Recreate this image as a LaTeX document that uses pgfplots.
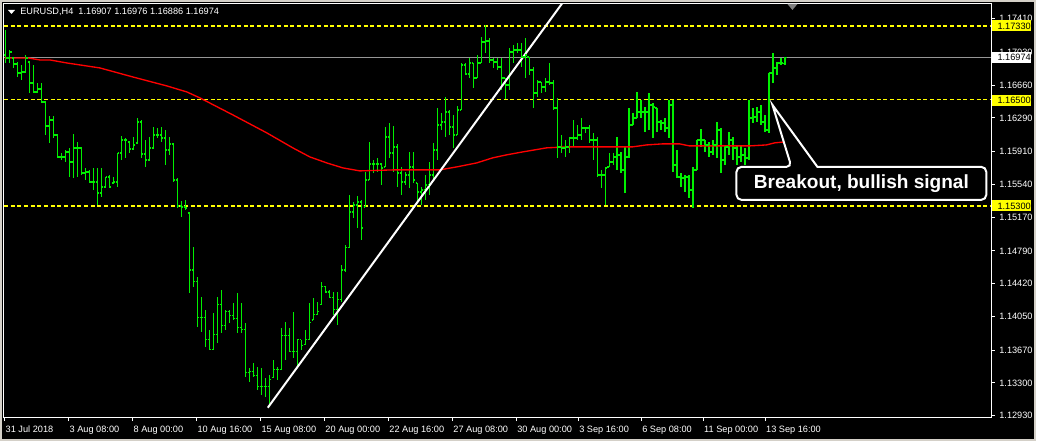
\documentclass[border=0pt]{standalone}
\usepackage{pgfplots}
\pgfplotsset{compat=1.18}
\usepackage{pgfplotstable}
\usepackage{fontspec}
\setmainfont{Liberation Sans}

\definecolor{barg}{RGB}{0,240,0}
\definecolor{mared}{RGB}{255,0,0}
\definecolor{lvl}{RGB}{255,255,0}
\definecolor{bidgray}{RGB}{150,150,150}
\definecolor{winframe}{RGB}{212,208,200}

% open tick to the left, close tick to the right
\pgfdeclareplotmark{openL}{\pgfpathmoveto{\pgfqpoint{-1.4pt}{0pt}}\pgfpathlineto{\pgfqpoint{0pt}{0pt}}\pgfusepathqstroke}
\pgfdeclareplotmark{closeR}{\pgfpathmoveto{\pgfqpoint{0pt}{0pt}}\pgfpathlineto{\pgfqpoint{1.4pt}{0pt}}\pgfusepathqstroke}

% EURUSD H4 bars
\pgfplotstableread{
i hi lo op cl
0 1.17284 1.16911 1.17002 1.16968
1 1.17058 1.16911 1.16968 1.17035
2 1.16968 1.16855 1.16968 1.16900
3 1.16923 1.16753 1.16900 1.16799
4 1.16889 1.16720 1.16799 1.16810
5 1.17002 1.16799 1.16810 1.16968
6 1.16923 1.16573 1.16923 1.16686
7 1.16889 1.16573 1.16686 1.16584
8 1.16686 1.16573 1.16584 1.16618
9 1.16686 1.16460 1.16618 1.16471
10 1.16471 1.16099 1.16471 1.16201
11 1.16314 1.16009 1.16201 1.16268
12 1.16314 1.16065 1.16268 1.16099
13 1.16099 1.15840 1.16099 1.15851
14 1.15896 1.15817 1.15851 1.15851
15 1.15930 1.15795 1.15851 1.15907
16 1.15953 1.15625 1.15907 1.15795
17 1.16110 1.15614 1.15795 1.15953
18 1.16020 1.15625 1.15953 1.15953
19 1.15964 1.15648 1.15953 1.15671
20 1.15727 1.15592 1.15671 1.15682
21 1.15704 1.15558 1.15682 1.15569
22 1.15727 1.15479 1.15569 1.15569
23 1.15727 1.15310 1.15569 1.15445
24 1.15727 1.15400 1.15445 1.15513
25 1.15625 1.15501 1.15513 1.15625
26 1.15648 1.15501 1.15625 1.15513
27 1.15625 1.15558 1.15558 1.15569
28 1.15896 1.15513 1.15569 1.15896
29 1.16088 1.15817 1.15896 1.16043
30 1.16065 1.15840 1.16043 1.16043
31 1.16020 1.15896 1.16020 1.15941
32 1.16077 1.15930 1.15941 1.15986
33 1.16291 1.16009 1.16009 1.16246
34 1.16268 1.15840 1.16246 1.15885
35 1.16043 1.15738 1.15885 1.15817
36 1.16077 1.15817 1.15817 1.15953
37 1.16189 1.15953 1.15953 1.16099
38 1.16178 1.16065 1.16099 1.16099
39 1.16189 1.16020 1.16099 1.16065
40 1.16156 1.15761 1.16065 1.15930
41 1.16077 1.15874 1.15930 1.15998
42 1.16009 1.15569 1.15998 1.15592
43 1.15614 1.15276 1.15592 1.15298
44 1.15355 1.15174 1.15298 1.15287
45 1.15366 1.15253 1.15287 1.15276
46 1.15219 1.14317 1.15219 1.14576
47 1.14836 1.14385 1.14576 1.14441
48 1.14497 1.13933 1.14441 1.14035
49 1.14272 1.13877 1.14035 1.14035
50 1.14125 1.13708 1.14035 1.13787
51 1.13900 1.13674 1.13787 1.13674
52 1.14091 1.13674 1.13674 1.13843
53 1.14272 1.13753 1.13843 1.14182
54 1.14351 1.13866 1.14182 1.13945
55 1.14125 1.13900 1.13945 1.14103
56 1.14125 1.13979 1.14103 1.14058
57 1.14204 1.14012 1.14058 1.14024
58 1.14317 1.13866 1.14024 1.13922
59 1.14204 1.13866 1.13922 1.13900
60 1.13979 1.13369 1.13900 1.13415
61 1.13471 1.13313 1.13415 1.13426
62 1.13527 1.13369 1.13426 1.13381
63 1.13482 1.13223 1.13381 1.13257
64 1.13471 1.13166 1.13257 1.13257
65 1.13358 1.13144 1.13257 1.13257
66 1.13392 1.13031 1.13257 1.13336
67 1.13561 1.13358 1.13358 1.13448
68 1.13482 1.13336 1.13448 1.13448
69 1.13922 1.13448 1.13448 1.13832
70 1.13990 1.13561 1.13832 1.13832
71 1.13922 1.13651 1.13832 1.13651
72 1.14103 1.13584 1.13651 1.13651
73 1.13787 1.13482 1.13651 1.13787
74 1.13787 1.13674 1.13787 1.13719
75 1.13900 1.13730 1.13730 1.13787
76 1.14204 1.13787 1.13787 1.13979
77 1.14261 1.14012 1.14012 1.14069
78 1.14215 1.14069 1.14069 1.14103
79 1.14441 1.14182 1.14182 1.14385
80 1.14396 1.14317 1.14385 1.14328
81 1.14351 1.14261 1.14328 1.14261
82 1.14328 1.14069 1.14261 1.14125
83 1.14328 1.13956 1.14125 1.14238
84 1.14633 1.14215 1.14238 1.14576
85 1.14858 1.14554 1.14576 1.14825
86 1.15422 1.14825 1.14825 1.15231
87 1.15343 1.15163 1.15231 1.15310
88 1.15411 1.15050 1.15310 1.15343
89 1.15366 1.14915 1.15343 1.15050
90 1.15682 1.15287 1.15287 1.15592
91 1.16020 1.15592 1.15592 1.15772
92 1.15817 1.15671 1.15772 1.15772
93 1.15840 1.15682 1.15772 1.15772
94 1.15783 1.15535 1.15772 1.15727
95 1.16189 1.15738 1.15738 1.16077
96 1.16235 1.15840 1.16077 1.15896
97 1.16201 1.15682 1.15896 1.15964
98 1.15998 1.15513 1.15964 1.15671
99 1.15738 1.15422 1.15671 1.15569
100 1.15682 1.15535 1.15569 1.15648
101 1.15907 1.15501 1.15648 1.15738
102 1.15907 1.15558 1.15738 1.15592
103 1.15558 1.15343 1.15558 1.15456
104 1.15513 1.15310 1.15456 1.15479
105 1.15648 1.15366 1.15479 1.15535
106 1.15795 1.15422 1.15535 1.15648
107 1.16009 1.15592 1.15648 1.15930
108 1.16404 1.15817 1.15930 1.16212
109 1.16347 1.16156 1.16212 1.16246
110 1.16528 1.16077 1.16246 1.16359
111 1.16381 1.16099 1.16359 1.16189
112 1.16325 1.15953 1.16189 1.16099
113 1.16426 1.16099 1.16099 1.16381
114 1.16911 1.16381 1.16381 1.16889
115 1.16911 1.16776 1.16889 1.16787
116 1.16968 1.16742 1.16787 1.16911
117 1.16911 1.16629 1.16911 1.16742
118 1.17002 1.16742 1.16742 1.16911
119 1.17205 1.16911 1.16911 1.17148
120 1.17340 1.17024 1.17148 1.17160
121 1.17193 1.16911 1.17160 1.16945
122 1.16968 1.16855 1.16945 1.16923
123 1.16968 1.16832 1.16923 1.16866
124 1.16968 1.16607 1.16866 1.16742
125 1.16742 1.16505 1.16742 1.16663
126 1.17081 1.16607 1.16663 1.17035
127 1.17114 1.16911 1.17035 1.17058
128 1.17137 1.17024 1.17058 1.17058
129 1.17137 1.16866 1.17058 1.16979
130 1.17193 1.16742 1.16979 1.17002
131 1.16979 1.16776 1.16979 1.16832
132 1.16866 1.16404 1.16832 1.16573
133 1.16720 1.16528 1.16573 1.16697
134 1.16697 1.16573 1.16697 1.16641
135 1.16742 1.16584 1.16641 1.16697
136 1.16911 1.16663 1.16697 1.16686
137 1.16720 1.16381 1.16686 1.16404
138 1.16517 1.15840 1.16404 1.15964
139 1.16099 1.15896 1.15964 1.15953
140 1.16043 1.15851 1.15953 1.15964
141 1.16077 1.15896 1.15964 1.16065
142 1.16268 1.15964 1.16065 1.16065
143 1.16212 1.16043 1.16065 1.16099
144 1.16291 1.16043 1.16099 1.16178
145 1.16189 1.16122 1.16178 1.16178
146 1.16212 1.16009 1.16178 1.16043
147 1.16122 1.15817 1.16043 1.16043
148 1.16077 1.15625 1.16043 1.15648
149 1.15704 1.15501 1.15648 1.15648
150 1.15738 1.15310 1.15648 1.15727
151 1.15896 1.15738 1.15738 1.15795
152 1.15896 1.15761 1.15795 1.15851
153 1.16077 1.15704 1.15851 1.15874
154 1.15907 1.15671 1.15874 1.15704
155 1.15964 1.15445 1.15704 1.15851
156 1.16404 1.15840 1.15851 1.16212
157 1.16347 1.16212 1.16212 1.16291
158 1.16584 1.16291 1.16291 1.16359
159 1.16494 1.16291 1.16359 1.16359
160 1.16415 1.16133 1.16359 1.16359
161 1.16573 1.16156 1.16359 1.16438
162 1.16460 1.16065 1.16438 1.16415
163 1.16404 1.16133 1.16404 1.16246
164 1.16268 1.16156 1.16246 1.16235
165 1.16291 1.16133 1.16235 1.16178
166 1.16494 1.16065 1.16178 1.16438
167 1.16494 1.15682 1.16438 1.15761
168 1.15930 1.15614 1.15761 1.15625
169 1.15671 1.15513 1.15625 1.15614
170 1.15648 1.15456 1.15614 1.15625
171 1.15648 1.15389 1.15625 1.15479
172 1.15738 1.15276 1.15479 1.15704
173 1.16043 1.15704 1.15704 1.16043
174 1.16167 1.15964 1.16043 1.16043
175 1.16043 1.15907 1.16043 1.15986
176 1.16020 1.15851 1.15986 1.15907
177 1.16043 1.15874 1.15907 1.15986
178 1.16246 1.15840 1.15986 1.16156
179 1.16178 1.15671 1.16156 1.15817
180 1.15986 1.15761 1.15817 1.15964
181 1.16133 1.15874 1.15964 1.16043
182 1.16077 1.15817 1.16043 1.15953
183 1.15986 1.15761 1.15953 1.15851
184 1.15986 1.15795 1.15851 1.15874
185 1.15953 1.15761 1.15874 1.15840
186 1.16494 1.15817 1.15840 1.16291
187 1.16404 1.16235 1.16291 1.16302
188 1.16415 1.16246 1.16302 1.16359
189 1.16438 1.16212 1.16359 1.16246
190 1.16325 1.16133 1.16246 1.16156
191 1.16799 1.16122 1.16156 1.16799
192 1.17024 1.16686 1.16799 1.16855
193 1.16923 1.16776 1.16855 1.16911
194 1.16968 1.16889 1.16911 1.16911
195 1.16976 1.16886 1.16907 1.16974
}\ohlc

% moving average (red)
\pgfplotstableread{
x ma
5 1.16968
28 1.16968
40 1.16945
50 1.16945
67 1.16911
100 1.16855
133 1.16753
167 1.16652
187 1.16584
200 1.16517
233 1.16325
267 1.16122
293 1.15953
310 1.15851
327 1.15783
343 1.15727
360 1.15693
393 1.15704
440 1.15704
457 1.15738
477 1.15783
493 1.15840
507 1.15874
523 1.15907
547 1.15953
567 1.15964
633 1.15964
647 1.15986
663 1.15998
680 1.15998
690 1.15975
750 1.15975
767 1.15986
775 1.16009
785 1.16020
}\ma

\begin{document}
\begin{tikzpicture}
\fill[black] (0,0) rectangle (777.75pt,330.75pt);
\draw[winframe, line width=1.5pt] (0.75pt,0.75pt) rectangle (777pt,330pt);
\begin{axis}[
  at={(3pt,17.25pt)}, anchor=south west,
  scale only axis, width=741pt, height=310.5pt,
  xmin=4, xmax=992, ymin=1.12907, ymax=1.17577,
  axis line style={white, line width=0.75pt},
  tick align=outside, major tick length=2.5pt,
  tick style={white, line width=0.75pt},
  xtick pos=bottom, ytick pos=right, yticklabel pos=right,
  xtick={5,69,133,197,261,325,389,453,517,579,642,704,766},
  xticklabels={31 Jul 2018,3 Aug 08:00,8 Aug 00:00,10 Aug 16:00,15 Aug 08:00,20 Aug 00:00,22 Aug 16:00,27 Aug 08:00,30 Aug 00:00,3 Sep 16:00,6 Sep 08:00,11 Sep 00:00,13 Sep 16:00},
  ytick={1.1293,1.1330,1.1367,1.1405,1.1442,1.1479,1.1517,1.1554,1.1591,1.1629,1.1666,1.1703,1.1741},
  yticklabels={1.12930,1.13300,1.13670,1.14050,1.14420,1.14790,1.15170,1.15540,1.15910,1.16290,1.16660,1.17030,1.17410},
  ticklabel style={text=white, font=\fontsize{6.9}{8}\selectfont},
  xticklabel style={anchor=north west, xshift=-3pt},
  yticklabel style={anchor=west},
]
% level lines
\addplot[color=lvl, line width=1.2pt, dash pattern=on 3pt off 2pt] coordinates {(4,1.1733) (992,1.1733)};
\addplot[color=lvl, line width=1.2pt, dash pattern=on 3pt off 2pt] coordinates {(4,1.1650) (992,1.1650)};
\addplot[color=lvl, line width=1.2pt, dash pattern=on 3pt off 2pt] coordinates {(4,1.1530) (992,1.1530)};
\addplot[color=bidgray, line width=0.8pt] coordinates {(4,1.16974) (992,1.16974)};
% bars: high-low stem, open tick left, close tick right
\addplot[draw=none, mark=none, error bars/.cd, y dir=plus, y explicit, error mark=none,
  error bar style={draw=barg, solid, line width=1.15pt}]
  table[x expr=5.7+4*\thisrow{i}, y=lo, y error plus expr=\thisrow{hi}-\thisrow{lo}] {\ohlc};
\addplot[color=barg, only marks, mark=openL, mark options={color=barg, line width=1.05pt}]
  table[x expr=5.7+4*\thisrow{i}, y=op] {\ohlc};
\addplot[color=barg, only marks, mark=closeR, mark options={color=barg, line width=1.05pt}]
  table[x expr=5.7+4*\thisrow{i}, y=cl] {\ohlc};
% moving average
\addplot[color=mared, line width=1pt] table[x=x, y=ma] {\ma};
% trend line
\addplot[color=white, line width=1.5pt] coordinates {(268,1.13020) (565,1.17622)};
\end{axis}

% price labels of the levels on the right scale
\fill[lvl] (744.75pt,307.1pt) rectangle (774pt,315.4pt);
\node[anchor=west, inner sep=0pt, text=black, font=\fontsize{6.9}{8}\selectfont] at (748.5pt,311.25pt) {1.17330};
\fill[white] (744.75pt,283.5pt) rectangle (774pt,291.75pt);
\node[anchor=west, inner sep=0pt, text=black, font=\fontsize{6.9}{8}\selectfont] at (748.5pt,287.6pt) {1.16974};
\fill[lvl] (744.75pt,251.3pt) rectangle (774pt,259.5pt);
\node[anchor=west, inner sep=0pt, text=black, font=\fontsize{6.9}{8}\selectfont] at (748.5pt,255.4pt) {1.16500};
\fill[lvl] (744.75pt,172.1pt) rectangle (774pt,180.4pt);
\node[anchor=west, inner sep=0pt, text=black, font=\fontsize{6.9}{8}\selectfont] at (748.5pt,176.25pt) {1.15300};

% chart title
\fill[white] (6pt,323.25pt) -- (11.25pt,323.25pt) -- (8.625pt,320.25pt) -- cycle;
\node[anchor=west, inner sep=0pt, text=white, font=\fontsize{6.9}{8}\selectfont] at (15pt,321.75pt) {EURUSD,H4\ \ 1.16907 1.16976 1.16886 1.16974};
% chart shift marker
\fill[gray] (591pt,327.75pt) -- (598.5pt,327.75pt) -- (594.75pt,323.25pt) -- cycle;

% callout
\draw[white, line width=1.5pt, fill=black]
  (594pt,205.5pt) -- (579.75pt,252pt) -- (613.5pt,205.5pt)
  [rounded corners=3.75pt] -- (740.25pt,205.5pt) -- (740.25pt,180.75pt) -- (552.75pt,180.75pt) -- (552.75pt,205.5pt) -- cycle;
\node[text=white, inner sep=0pt, font=\fontsize{14.3}{16}\selectfont\bfseries] at (646.5pt,193.1pt) {Breakout, bullish signal};
\end{tikzpicture}
\end{document}
